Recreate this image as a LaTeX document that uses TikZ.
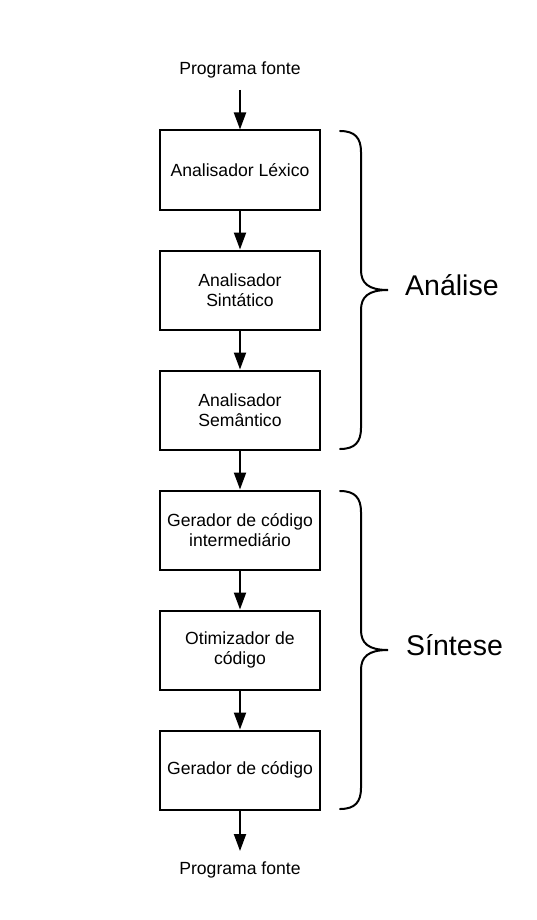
\documentclass[tikz,border=0pt]{standalone}
\usepackage{fontspec}
\setmainfont{Liberation Sans}
\usetikzlibrary{arrows.meta}
\begin{document}
\begin{tikzpicture}[x=1pt,y=-1pt,
  stagebox/.style={draw=black, line width=2pt, minimum width=160pt, minimum height=79pt, align=center, inner sep=2pt, font=\fontsize{17.6}{20.5}\selectfont},
  plain/.style={inner sep=0pt, font=\fontsize{17.6}{20.5}\selectfont},
  bigtext/.style={inner sep=0pt, anchor=base west, font=\fontsize{28.5}{32}\selectfont},
  flow/.style={line width=2pt, -{Triangle[length=17pt,width=12pt]}},
  bracepath/.style={line width=2pt, line cap=round}]
\useasboundingbox (0,0) rectangle (537,920);
\node[plain] (src) at (240,69.5) {Programa fonte};
\node[plain] (dst) at (240,869.5) {Programa fonte};
\coordinate (srcend) at (240,90);
\coordinate (dstend) at (240,851);
\node[stagebox] (b1) at (240,170) {Analisador Léxico};
\node[stagebox] (b2) at (240,290) {Analisador\\Sintático};
\node[stagebox] (b3) at (240,410) {Analisador\\Semântico};
\node[stagebox] (b4) at (240,530) {Gerador de código\\intermediário};
\node[stagebox] (b5) at (240,650) {Otimizador de\\código};
\node[stagebox] (b6) at (240,770) {Gerador de código};
\draw[flow] (srcend) -- (b1);
\draw[flow] (b1) -- (b2);
\draw[flow] (b2) -- (b3);
\draw[flow] (b3) -- (b4);
\draw[flow] (b4) -- (b5);
\draw[flow] (b5) -- (b6);
\draw[flow] (b6) -- (dstend);
% braces
\draw[bracepath] (340,131) .. controls (355,131) and (361,138) .. (361,152) -- (361,270) .. controls (361,283) and (368,290) .. (388,290)
  .. controls (368,290) and (361,297) .. (361,310) -- (361,428) .. controls (361,442) and (355,449) .. (340,449);
\draw[bracepath] (340,491) .. controls (355,491) and (361,498) .. (361,512) -- (361,630) .. controls (361,643) and (368,650) .. (388,650)
  .. controls (368,650) and (361,657) .. (361,670) -- (361,788) .. controls (361,802) and (355,809) .. (340,809);
\node[bigtext] (analise) at (405,295) {Análise};
\node[bigtext] (sintese) at (406,655) {Síntese};
\end{tikzpicture}
\end{document}
